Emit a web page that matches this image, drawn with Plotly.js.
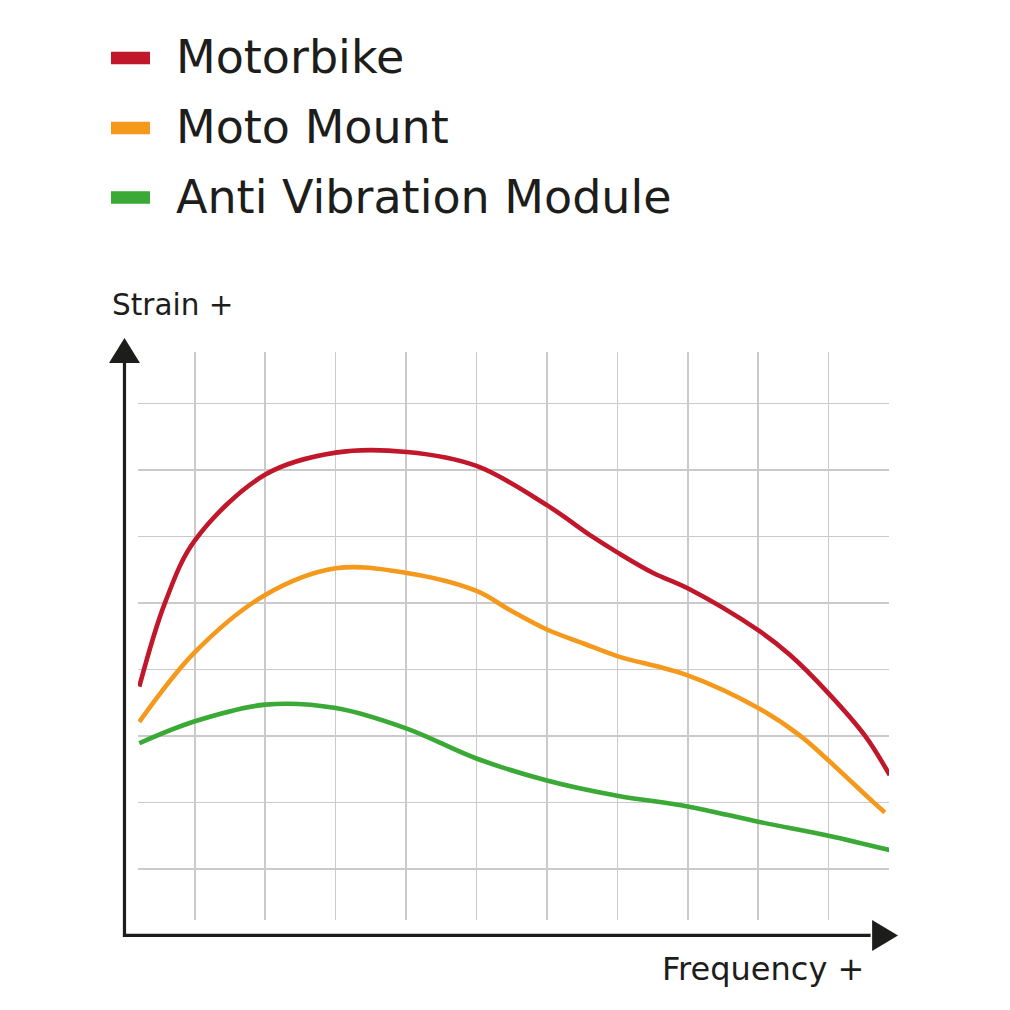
<!DOCTYPE html>
<html>
<head>
<meta charset="utf-8">
<script src="https://cdn.plot.ly/plotly-3.0.1.min.js"></script>
<style>html,body{margin:0;padding:0;background:#fff;}#chart{width:1010px;height:1010px;}</style>
</head>
<body>
<div id="chart"></div>
<script>
// ---- data (arbitrary units) ----
const seriesNames = ["Motorbike", "Moto Mount", "Anti Vibration Module"];
const seriesColors = ["#c0172b", "#f5991c", "#3aa936"];

const motorbikeX = [0.21, 0.575, 1.0, 2.0, 3.0, 4.01, 5.0, 6.0, 6.64, 7.0, 7.51, 8.0, 9.0, 9.45, 10.0, 10.52, 10.87];
const motorbikeY = [3.74, 5.00, 5.94, 6.93, 7.26, 7.27, 7.06, 6.47, 6.00, 5.76, 5.45, 5.22, 4.59, 4.22, 3.64, 3.00, 2.41];

const motoMountX = [0.21, 1.0, 2.0, 3.0, 4.01, 5.0, 5.48, 6.0, 6.52, 7.0, 8.0, 9.0, 9.6, 10.0, 10.64, 10.80];
const motoMountY = [3.21, 4.26, 5.12, 5.52, 5.45, 5.18, 4.89, 4.60, 4.39, 4.20, 3.91, 3.42, 3.00, 2.63, 2.00, 1.85];

const antiVibX = [0.21, 1.0, 2.0, 3.0, 4.01, 5.0, 6.0, 7.0, 8.0, 9.0, 10.0, 10.88];
const antiVibY = [2.89, 3.22, 3.47, 3.42, 3.11, 2.66, 2.33, 2.10, 1.94, 1.71, 1.50, 1.28];

const axisTitleX = "Frequency +";
const axisTitleY = "Strain +";

// ---- layout geometry ----
const W = 1010, H = 1010;
const M = {l: 138, r: 121, t: 352, b: 90};
const plotW = W - M.l - M.r, plotH = H - M.t - M.b;
const xr = [0.192, 10.859];
const yr = [0.232, 8.773];
const fx = px => (px - M.l) / plotW;          // pixel -> paper
const fy = py => (H - M.b - py) / plotH;
const dx = v => (v - xr[0]) / (xr[1] - xr[0]); // data -> paper
const dy = v => (v - yr[0]) / (yr[1] - yr[0]);

const FONT = "DejaVu Sans";
const TEXT = "#1d1d1b";
const AXC = "#1d1d1b";

const xs = [motorbikeX, motoMountX, antiVibX];
const ys = [motorbikeY, motoMountY, antiVibY];
const traces = seriesNames.map((n, i) => ({
  type: "scatter", mode: "lines", name: n,
  x: xs[i], y: ys[i],
  line: {color: seriesColors[i], width: 4.6, shape: "spline", smoothing: 1.0, simplify: false},
  showlegend: false, hoverinfo: "skip"
}));

// axis arrows (origin at data 0,0)
const ax0 = dx(0), ay0 = dy(0);
const yTip = dy(8.983), yBase = dy(8.608);
const xTip = dx(10.987), xBase = dx(10.619);
const halfWx = 15.5 / plotW, halfWy = 15.5 / plotH;

const shapes = [
  {type: "line", xref: "paper", yref: "paper", x0: ax0, x1: ax0, y0: ay0 - 1.5 / plotH, y1: yBase + 0.002,
   line: {color: AXC, width: 3.2}},
  {type: "line", xref: "paper", yref: "paper", x0: ax0 - 1.5 / plotW, x1: xBase - 0.002, y0: ay0, y1: ay0,
   line: {color: AXC, width: 3.2}},
  {type: "path", xref: "paper", yref: "paper",
   path: `M ${ax0 - halfWx},${yBase} L ${ax0},${yTip} L ${ax0 + halfWx},${yBase} Z`,
   fillcolor: AXC, line: {width: 0}},
  {type: "path", xref: "paper", yref: "paper",
   path: `M ${xBase},${ay0 + halfWy} L ${xTip},${ay0} L ${xBase},${ay0 - halfWy} Z`,
   fillcolor: AXC, line: {width: 0}}
];

const annotations = [
  {xref: "paper", yref: "paper", x: fx(110), y: fy(305), xanchor: "left", yanchor: "middle",
   text: axisTitleY, showarrow: false, font: {family: FONT, size: 29.5, color: TEXT}},
  {xref: "paper", yref: "paper", x: fx(660), y: fy(969), xanchor: "left", yanchor: "middle",
   text: axisTitleX, showarrow: false, font: {family: FONT, size: 32, color: TEXT}}
];

// custom legend
const rowCenter = [58, 128, 197.5];
seriesNames.forEach((n, i) => {
  shapes.push({type: "rect", xref: "paper", yref: "paper",
    x0: fx(111), x1: fx(150), y0: fy(rowCenter[i] - 6.3), y1: fy(rowCenter[i] + 6.3),
    fillcolor: seriesColors[i], line: {width: 0}});
  annotations.push({xref: "paper", yref: "paper", x: fx(174), y: fy(rowCenter[i] - 1),
    xanchor: "left", yanchor: "middle", text: n, showarrow: false,
    font: {family: FONT, size: 46, color: TEXT}});
});

const axisCommon = {
  showline: false, zeroline: false, ticks: "", showticklabels: false,
  showgrid: true, gridcolor: "#cacaca", gridwidth: 1.6, tick0: 0, dtick: 1,
  fixedrange: true
};

const layout = {
  width: W, height: H,
  margin: M,
  paper_bgcolor: "#ffffff", plot_bgcolor: "#ffffff",
  xaxis: Object.assign({}, axisCommon, {range: xr}),
  yaxis: Object.assign({}, axisCommon, {range: yr}),
  shapes: shapes,
  annotations: annotations,
  showlegend: false,
  font: {family: FONT, color: TEXT}
};

Plotly.newPlot("chart", traces, layout, {displayModeBar: false, staticPlot: true});
</script>
</body>
</html>
